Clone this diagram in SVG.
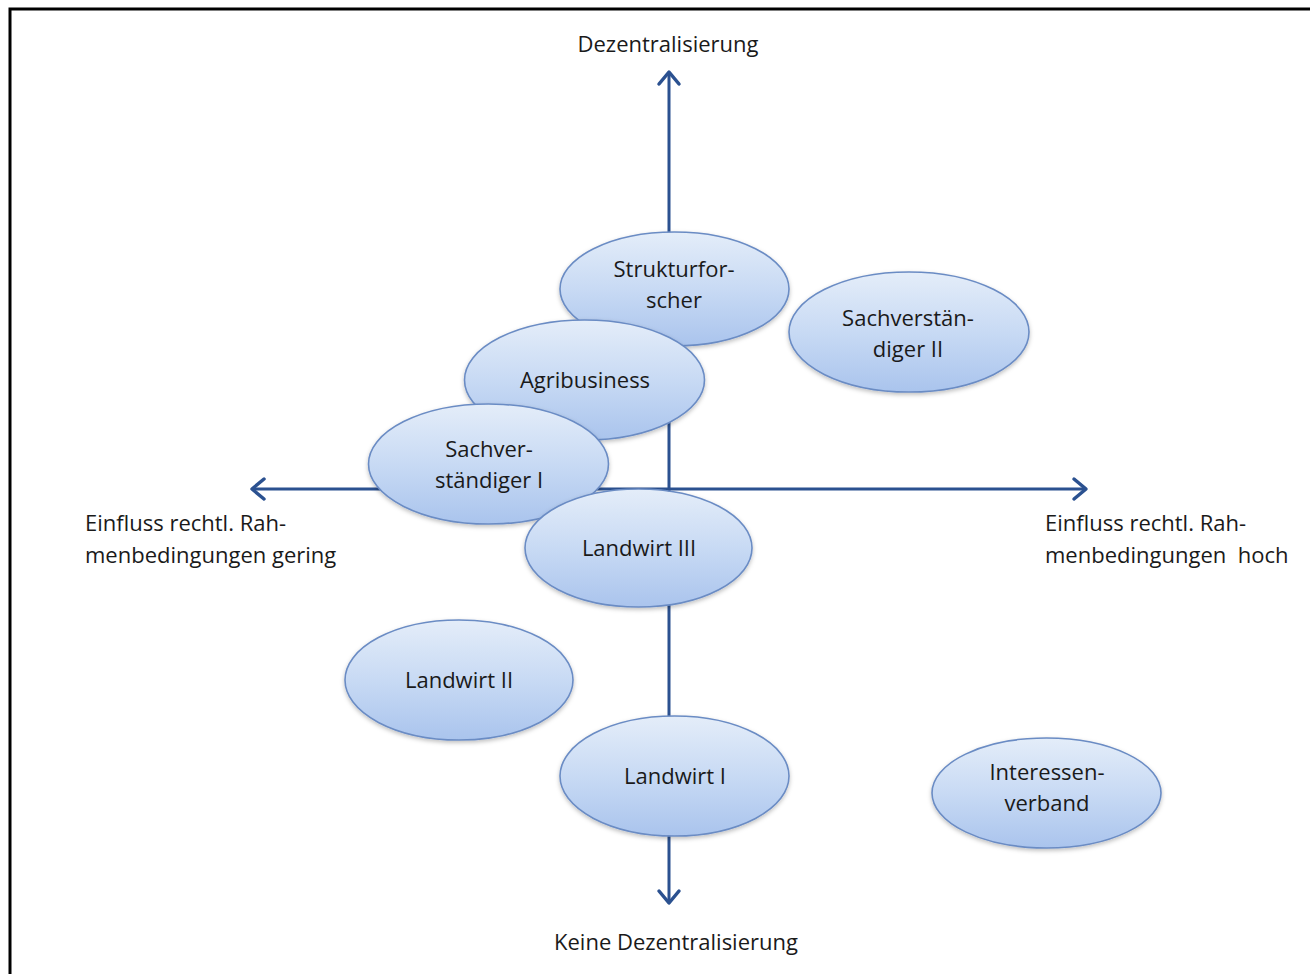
<svg xmlns="http://www.w3.org/2000/svg" width="1310" height="974" viewBox="0 0 1310 974">
<style>
.lbl{font-family:"Open Sans","Liberation Sans",sans-serif;font-size:22px;fill:#1a1a1a;white-space:pre}
.nt{font-family:"Open Sans","Liberation Sans",sans-serif;font-size:22px;fill:#1a1a1a;text-anchor:middle}
.ell{fill:url(#g);stroke:#6b8cc4;stroke-width:1.6;filter:url(#sh)}
.ax{stroke:#2b5190;stroke-width:3;fill:none}
.ah{stroke:#2b5190;stroke-width:3.5;fill:none;stroke-linecap:round;stroke-linejoin:round}
</style>
<defs>
<linearGradient id="g" x1="0" y1="0" x2="0" y2="1">
<stop offset="0" stop-color="#e4edf9"/>
<stop offset="0.5" stop-color="#c8daf4"/>
<stop offset="1" stop-color="#aac4ed"/>
</linearGradient>
<filter id="sh" x="-10%" y="-10%" width="120%" height="130%">
<feDropShadow dx="0" dy="2" stdDeviation="2" flood-color="#000" flood-opacity="0.25"/>
</filter>
</defs>
<rect width="1310" height="974" fill="#fff"/>
<path d="M10 974 V9 H1310" fill="none" stroke="#000" stroke-width="3"/>
<g id="connectors">
<line class="ax" x1="669" y1="72" x2="669" y2="903"/>
<line class="ax" x1="252" y1="489" x2="1086" y2="489"/>
<path class="ah" d="M659 84 L669 72 L679 84"/>
<path class="ah" d="M659 891 L669 903 L679 891"/>
<path class="ah" d="M264 479 L252 489 L264 499"/>
<path class="ah" d="M1074 479 L1086 489 L1074 499"/>
</g>
<g id="axis-labels">
<text class="nt" x="668" y="52">Dezentralisierung</text>
<text class="nt" x="676" y="950">Keine Dezentralisierung</text>
<text class="lbl" x="85" y="531">Einfluss rechtl. Rah-</text>
<text class="lbl" x="85" y="563">menbedingungen gering</text>
<text class="lbl" x="1045" y="531">Einfluss rechtl. Rah-</text>
<text class="lbl" x="1045" y="563" xml:space="preserve">menbedingungen  hoch</text>
</g>
<g id="strukturforscher">
<ellipse class="ell" cx="674.5" cy="289" rx="114.5" ry="57"/>
<text class="nt" x="674" y="277">Strukturfor-</text>
<text class="nt" x="674" y="308">scher</text>
</g>
<g id="sachverstaendiger2">
<ellipse class="ell" cx="909" cy="332" rx="120" ry="60"/>
<text class="nt" x="908" y="326">Sachverstän-</text>
<text class="nt" x="908" y="357">diger II</text>
</g>
<g id="agribusiness">
<ellipse class="ell" cx="584.5" cy="380" rx="120" ry="60"/>
<text class="nt" x="585" y="388">Agribusiness</text>
</g>
<g id="sachverstaendiger1">
<ellipse class="ell" cx="488.5" cy="464" rx="120" ry="60"/>
<text class="nt" x="489" y="457">Sachver-</text>
<text class="nt" x="489" y="488">ständiger I</text>
</g>
<g id="landwirt3">
<ellipse class="ell" cx="638.5" cy="548" rx="113.5" ry="59"/>
<text class="nt" x="639" y="556">Landwirt III</text>
</g>
<g id="landwirt2">
<ellipse class="ell" cx="459" cy="680" rx="114" ry="60"/>
<text class="nt" x="459" y="688">Landwirt II</text>
</g>
<g id="landwirt1">
<ellipse class="ell" cx="674.5" cy="776" rx="114.5" ry="60"/>
<text class="nt" x="675" y="784">Landwirt I</text>
</g>
<g id="interessenverband">
<ellipse class="ell" cx="1046.5" cy="793" rx="114.5" ry="55"/>
<text class="nt" x="1047" y="780">Interessen-</text>
<text class="nt" x="1047" y="811">verband</text>
</g>
</svg>
